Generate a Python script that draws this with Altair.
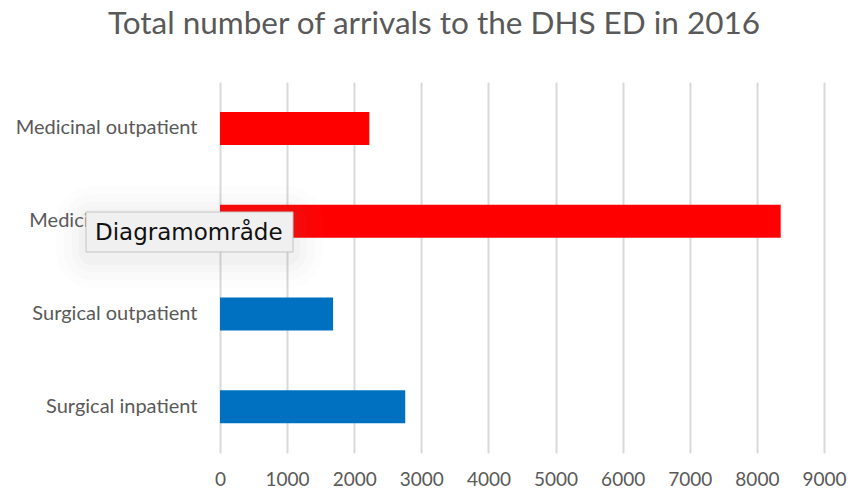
import altair as alt
import pandas as pd

categories = ["Medicinal outpatient", "Medicinal inpatient", "Surgical outpatient", "Surgical inpatient"]
arrivals = [2225, 8355, 1685, 2760]
groups = ["Medicinal", "Medicinal", "Surgical", "Surgical"]
x_ticks = [0, 1000, 2000, 3000, 4000, 5000, 6000, 7000, 8000, 9000]

df = pd.DataFrame({"category": categories, "arrivals": arrivals, "group": groups})
one = alt.Data(values=[{"k": 1}])

bars = alt.Chart(df).mark_bar(size=33).encode(
    y=alt.Y("category:N", sort=categories, title=None,
            scale=alt.Scale(paddingInner=0.645, paddingOuter=0.3225),
            axis=alt.Axis(ticks=False, domain=False, grid=False, labelPadding=23,
                          labelLimit=260,
                          labelFontSize=20, labelColor="#595959", labelFont="Lato")),
    x=alt.X("arrivals:Q", title=None,
            scale=alt.Scale(domain=[0, 9000], nice=False),
            axis=alt.Axis(values=x_ticks, format="d", ticks=False, domain=False, grid=True,
                          gridColor="#d9d9d9", gridWidth=2, labelPadding=17,
                          labelFontSize=19, labelColor="#595959", labelFont="Lato",
                          labelFlush=False)),
    color=alt.Color("group:N", scale=alt.Scale(domain=["Medicinal", "Surgical"],
                                               range=["#FF0000", "#0070C0"]), legend=None),
)

shadow_layers = []
for pad, op in [(30, 0.02), (22, 0.025), (14, 0.035), (7, 0.045)]:
    shadow_layers.append(
        alt.Chart(one).mark_rect(color="#808080", opacity=op, cornerRadius=pad + 6).encode(
            x=alt.value(-134 - pad), x2=alt.value(73 + pad),
            y=alt.value(130 - pad + 4), y2=alt.value(170 + pad + 6),
        )
    )

box = alt.Chart(one).mark_rect(fill="#f0f0f0", stroke="#c4c4c4", strokeWidth=1).encode(
    x=alt.value(-134), x2=alt.value(73), y=alt.value(130), y2=alt.value(170),
)
tip = alt.Chart(one).mark_text(text="Diagramområde", align="left", baseline="alphabetic",
                               font="DejaVu Sans", fontSize=23, color="#111111").encode(
    x=alt.value(-125), y=alt.value(158),
)

chart = alt.layer(bars, *shadow_layers, box, tip).properties(
    width=604, height=371,
    padding={"left": 220, "top": 82, "right": 24, "bottom": 38},
    autosize=alt.AutoSizeParams(type="none"),
    title=alt.TitleParams("Total number of arrivals to the DHS ED in 2016",
                          fontSize=31.5, font="Lato", fontWeight="normal",
                          color="#595959", dx=-88, offset=42),
).configure(background="white", view=alt.ViewConfig(stroke=None))

chart.save("out.html", embed_options={"renderer": "svg", "actions": False})
